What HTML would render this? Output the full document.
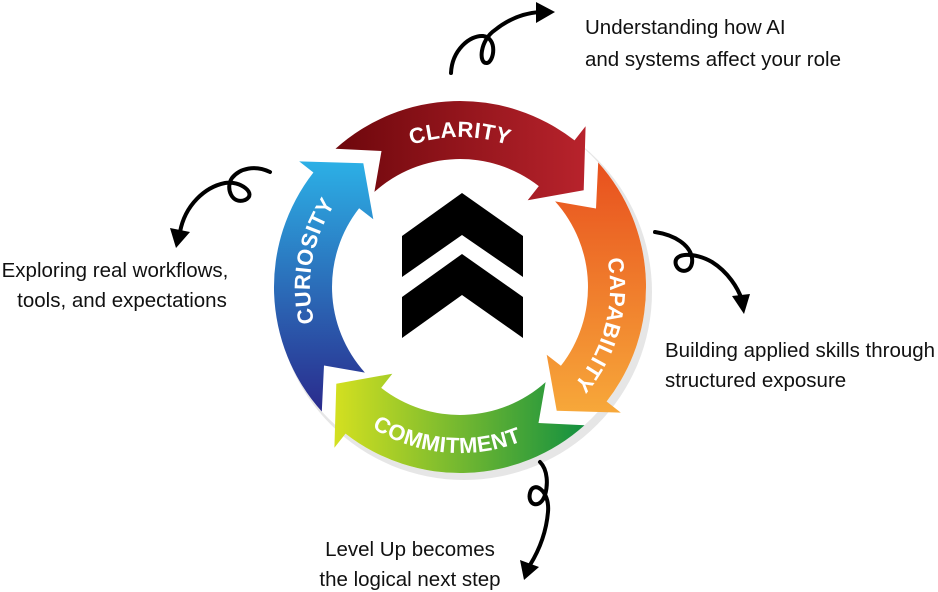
<!DOCTYPE html>
<html><head><meta charset="utf-8"><style>
html,body{margin:0;padding:0;background:#fff;width:938px;height:592px;overflow:hidden}
svg{display:block}
.lbl{font-family:"Liberation Sans",sans-serif;font-size:20.5px;fill:#111}
.rt{font-family:"Liberation Sans",sans-serif;font-weight:bold;font-size:22px;fill:#fff;letter-spacing:0.5px}
</style></head><body>
<svg width="938" height="592" viewBox="0 0 938 592" xmlns="http://www.w3.org/2000/svg">
<defs>
<linearGradient id="gCl" x1="0" y1="0" x2="1" y2="0"><stop offset="0" stop-color="#6e070c"/><stop offset="1" stop-color="#b8232c"/></linearGradient>
<linearGradient id="gCa" x1="0" y1="0" x2="0" y2="1"><stop offset="0" stop-color="#e8501e"/><stop offset="1" stop-color="#f7a83a"/></linearGradient>
<linearGradient id="gCo" x1="0" y1="0" x2="1" y2="0"><stop offset="0" stop-color="#d4e020"/><stop offset="1" stop-color="#139040"/></linearGradient>
<linearGradient id="gCu" x1="0" y1="0" x2="0" y2="1"><stop offset="0" stop-color="#2cb0e6"/><stop offset="1" stop-color="#2a2a8c"/></linearGradient>
<path id="tpCl" d=""/><path id="tpCa" d=""/><path id="tpCo" d=""/><path id="tpCu" d=""/>
</defs>
<circle cx="464" cy="292" r="188" fill="#e6e6e6"/>
<circle cx="460" cy="287" r="186" fill="#fff"/>
<path id="sCu" fill="url(#gCu)"/>
<path id="sCo" fill="url(#gCo)"/>
<path id="sCa" fill="url(#gCa)"/>
<path id="sCl" fill="url(#gCl)"/>
<text class="rt"><textPath href="#tpCl" startOffset="50%" text-anchor="middle">CLARITY</textPath></text>
<text class="rt"><textPath href="#tpCa" startOffset="50%" text-anchor="middle">CAPABILITY</textPath></text>
<text class="rt"><textPath href="#tpCo" startOffset="50%" text-anchor="middle">COMMITMENT</textPath></text>
<text class="rt"><textPath href="#tpCu" startOffset="50%" text-anchor="middle">CURIOSITY</textPath></text>
<polygon points="462,193 523,236 523,277 462,235 402,277 402,236" fill="#000"/>
<polygon points="462,254 523,297 523,338 462,295 402,338 402,297" fill="#000"/>
<g fill="none" stroke="#000" stroke-width="4" stroke-linecap="round">
<path d="M451,73 C452,50 470,35 483,36 C498,38 494,62 487,63 C478,64 480,40 495,30 C510,18 525,13 540,12"/>
<path d="M270,172 C255,165 240,168 232,178 C225,188 232,205 245,200 C258,194 240,180 225,183 C205,187 185,205 180,232"/>
<path d="M655,232 C675,235 690,245 692,258 C694,272 680,275 676,265 C672,252 695,252 712,262 C728,272 738,288 742,300"/>
<path d="M540,462 C548,470 548,485 545,495 C540,510 527,505 530,493 C533,480 550,490 548,512 C546,535 538,552 530,565"/>
</g>
<g fill="#000">
<polygon points="536,2 555,12 536,23"/>
<polygon points="170,228 190,232 176,248"/>
<polygon points="732,296 750,294 744,314"/>
<polygon points="520,560 539,567 524,580"/>
</g>
<text class="lbl" x="585" y="34">Understanding how AI</text>
<text class="lbl" x="585" y="66">and systems affect your role</text>
<text class="lbl" x="115" y="277" text-anchor="middle">Exploring real workflows,</text>
<text class="lbl" x="122" y="307" text-anchor="middle">tools, and expectations</text>
<text class="lbl" x="665" y="357">Building applied skills through</text>
<text class="lbl" x="665" y="387">structured exposure</text>
<text class="lbl" x="410" y="556" text-anchor="middle">Level Up becomes</text>
<text class="lbl" x="410" y="586" text-anchor="middle">the logical next step</text>
</svg>
<script>
var cx=460,cy=287,Ro=186,Ri=128,E=18;
function P(r,t){t=t*Math.PI/180;return (cx+r*Math.sin(t)).toFixed(1)+","+(cy-r*Math.cos(t)).toFixed(1);}
function seg(a,b){var m=(Ro+Ri)/2,lg=(b-a)>180?1:0;
return "M"+P(Ro,a)+" A"+Ro+","+Ro+" 0 "+lg+" 1 "+P(Ro,b)+" L"+P(Ro+E,b)+" L"+P(m,b+14)+" L"+P(Ri-E,b)+" L"+P(Ri,b)+
" A"+Ri+","+Ri+" 0 "+lg+" 0 "+P(Ri,a)+" L"+P(m,a+12)+" Z";}
function arc(r,a,b,cw){return "M"+P(r,a)+" A"+r+","+r+" 0 0 "+(cw?1:0)+" "+P(r,b);}
document.getElementById("sCl").setAttribute("d",seg(-42,38));
document.getElementById("sCa").setAttribute("d",seg(48,128));
document.getElementById("sCo").setAttribute("d",seg(138,218));
document.getElementById("sCu").setAttribute("d",seg(228,308));
document.getElementById("tpCl").setAttribute("d",arc(150,-40,40,true));
document.getElementById("tpCa").setAttribute("d",arc(150,60,150,true));
document.getElementById("tpCo").setAttribute("d",arc(166,230,140,false));
document.getElementById("tpCu").setAttribute("d",arc(150,235,325,true));
</script>
</body></html>
